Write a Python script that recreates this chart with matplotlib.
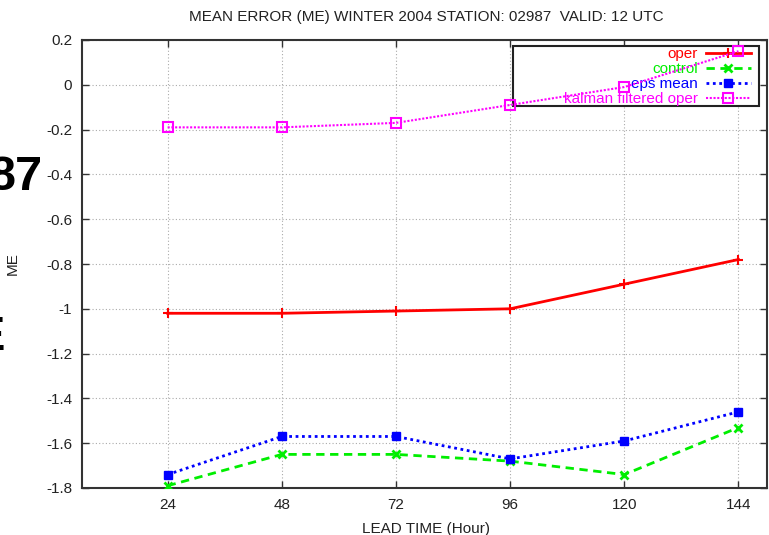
import matplotlib
matplotlib.use('Agg')
import matplotlib.pyplot as plt
from matplotlib.patches import Rectangle

plt.rcParams['font.family'] = ['Liberation Sans', 'DejaVu Sans']
plt.rcParams['axes.unicode_minus'] = False

# lead times (hours)
lead_time = [24, 48, 72, 96, 120, 144]

# mean error per forecast type
oper = [-1.02, -1.02, -1.01, -1.00, -0.89, -0.78]
control = [-1.79, -1.65, -1.65, -1.68, -1.74, -1.53]
eps_mean = [-1.74, -1.57, -1.57, -1.67, -1.59, -1.46]
kalman = [-0.19, -0.19, -0.17, -0.09, -0.01, 0.15]

x_ticks = [24, 48, 72, 96, 120, 144]
y_ticks = [0.2, 0, -0.2, -0.4, -0.6, -0.8, -1, -1.2, -1.4, -1.6, -1.8]

W, H = 769, 535
fig = plt.figure(figsize=(W / 100, H / 100), dpi=100)
ax = fig.add_axes([82 / W, 1 - 488 / H, (767 - 82) / W, (488 - 40) / H])

txt = '#222222'

ax.plot(lead_time, oper, color='#ff0000', lw=2, marker='+', ms=7, mew=1.5,
        label='oper', zorder=3)
ax.plot(lead_time, control, color='#00ee00', lw=2, ls=(0, (3, 2)), marker='x',
        ms=6, mew=2, label='control', zorder=3)
ax.plot(lead_time, eps_mean, color='#0000ff', lw=2, ls=(0, (1, 1.3)), marker='s',
        ms=6, label='eps mean', zorder=3)
ax.plot(lead_time, kalman, color='#ff00ff', lw=1.5, ls=(0, (1, 0.8)), marker='s',
        ms=7, mfc='none', mew=1.5, label='kalman filtered oper', zorder=3)

ax.set_xlim(6, 150)
ax.set_ylim(-1.8, 0.2)
ax.set_xticks(x_ticks)
ax.set_yticks(y_ticks)
ax.set_yticklabels(['%g' % v for v in y_ticks])
ax.tick_params(direction='in', length=5, width=1, top=True, right=True,
               labelsize=11, labelcolor=txt, color='#333333')
ax.tick_params(axis='y', pad=7)
ax.tick_params(axis='x', pad=7)
ax.grid(True, color='#aaaaaa', ls=(0, (1, 2)), lw=0.8)
for sp in ax.spines.values():
    sp.set_color('#333333')
    sp.set_linewidth(1.5)

ax.set_xlabel('LEAD TIME (Hour)', fontsize=11, color=txt)
ax.xaxis.set_label_coords((426 - 82) / (767 - 82), -(522 - 488) / (488 - 40))
ax.set_ylabel('ME', fontsize=11, color=txt)
ax.yaxis.set_label_coords(-(82 - 20) / (767 - 82), 0.5)

fig.text(426 / W, 1 - 17 / H,
         'MEAN ERROR (ME) WINTER 2004 STATION: 02987  VALID: 12 UTC',
         ha='center', va='center', fontsize=11, color=txt)

# legend box (white, under the data lines)
box = Rectangle((513 / W, 1 - 106 / H), (759 - 513) / W, (106 - 46) / H,
                transform=fig.transFigure, facecolor='white',
                edgecolor='#222222', lw=1.5, zorder=2, clip_on=False)
ax.add_patch(box)

leg = ax.legend(loc='upper right', bbox_to_anchor=(751 / W, 1 - 47 / H),
                bbox_transform=fig.transFigure, markerfirst=False,
                labelcolor='linecolor', fontsize=11, frameon=False,
                handlelength=2.95, handletextpad=0.52, labelspacing=0.07,
                borderpad=0, borderaxespad=0)
leg.set_zorder(2.5)

# fragments of slide text cut by the crop
fig.text(43 / W, 1 - 190 / H, '87', ha='right', va='baseline',
         fontsize=35, fontweight='bold', color='black')
fig.text(5 / W, 1 - 350 / H, 'E', ha='right', va='baseline',
         fontsize=35, fontweight='bold', color='black')

fig.savefig('out.png', dpi=100)
